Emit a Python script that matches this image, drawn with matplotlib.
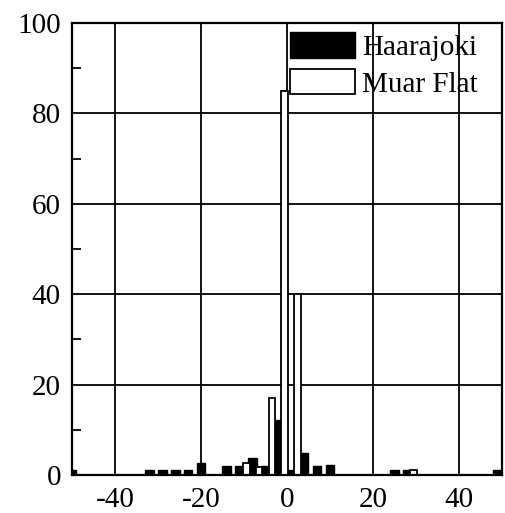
import matplotlib
matplotlib.use('Agg')
import matplotlib.pyplot as plt
from matplotlib.patches import Patch
from matplotlib.ticker import MultipleLocator

plt.rcParams['font.family'] = 'Liberation Serif'
plt.rcParams['axes.unicode_minus'] = False

# Histogram bins (bin centres)
haar_x = [-50, -32, -29, -26, -23, -20, -14, -11, -8, -5, -2, 1, 4, 7, 10, 25, 28, 49]
haar_y = [1, 1, 1, 1, 1, 2.7, 2, 2, 3.7, 2, 12.2, 1.1, 4.9, 2, 2.2, 1, 1, 1]

muar_x = [-9.5, -6.5, -3.5, -0.5, 2.5, 29.5]
muar_y = [2.6, 1.8, 17, 85, 40, 1]

xticks = [-40, -20, 0, 20, 40]
yticks = [0, 20, 40, 60, 80, 100]

fig = plt.figure(figsize=(5.05, 5.13), dpi=100)
ax = fig.add_axes([0.1426, 0.0741, 0.8514, 0.8811])

ax.bar(haar_x, haar_y, width=2.0, color='black', edgecolor='black',
       linewidth=1.0, zorder=2)
ax.bar(muar_x, muar_y, width=1.6, color='white', edgecolor='black',
       linewidth=1.3, zorder=3)

ax.set_xlim(-50, 50)
ax.set_ylim(0, 100)
ax.set_xticks(xticks)
ax.set_yticks(yticks)
ax.yaxis.set_minor_locator(MultipleLocator(10))
ax.grid(True, which='major', color='black', linewidth=1.3)
ax.set_axisbelow(True)

ax.tick_params(axis='both', which='major', direction='in', length=0,
               labelsize=21)
ax.tick_params(axis='x', pad=9)
ax.tick_params(axis='y', pad=8)
ax.tick_params(axis='y', which='minor', direction='in', length=6.5,
               width=1.3, color='black')
ax.tick_params(axis='x', which='minor', length=0)

for s in ax.spines.values():
    s.set_linewidth(1.6)
    s.set_zorder(5)

handles = [Patch(facecolor='black', edgecolor='black', label='Haarajoki'),
           Patch(facecolor='white', edgecolor='black', linewidth=1.3,
                 label='Muar Flat')]
ax.legend(handles=handles, loc='upper left', bbox_to_anchor=(0.507, 0.979),
          frameon=False, fontsize=21, handlelength=2.23, handleheight=0.95,
          handletextpad=0.24, labelspacing=0.28, borderaxespad=0,
          borderpad=0)

plt.savefig('out.png', dpi=100)
plt.close()
